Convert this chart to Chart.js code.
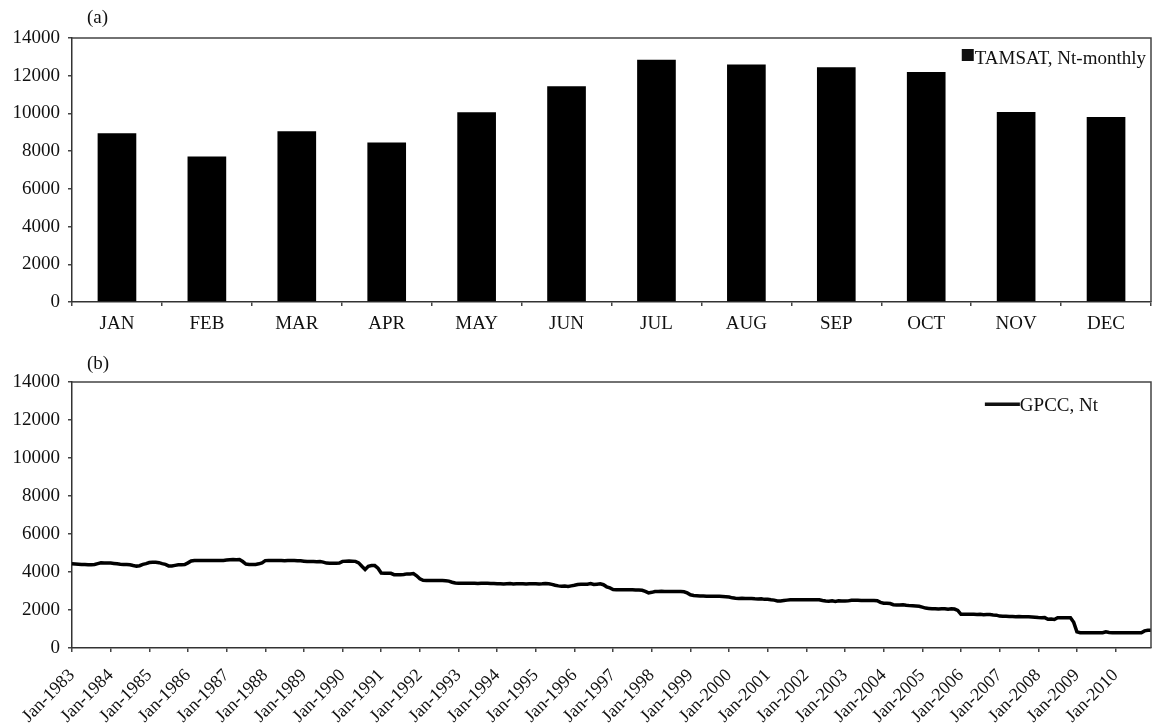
<!DOCTYPE html>
<html><head><meta charset="utf-8">
<script src="https://cdn.jsdelivr.net/npm/chart.js@4"></script>
<style>
html,body{margin:0;padding:0;background:#fff;overflow:hidden;}
#wrapA{position:absolute;left:0;top:0;width:1153px;height:340px;}
#wrapB{position:absolute;left:0;top:340px;width:1153px;height:384px;}
</style></head><body>
<div id="wrapA"><canvas id="chartA" width="1153" height="340"></canvas></div>
<div id="wrapB"><canvas id="chartB" width="1153" height="384"></canvas></div>
<script>
// ---- data ----
const monthCategories = ['JAN','FEB','MAR','APR','MAY','JUN','JUL','AUG','SEP','OCT','NOV','DEC'];
const tamsatNtMonthly = [8950, 7720, 9050, 8460, 10060, 11440, 12850, 12590, 12450, 12200, 10080, 9810];
const yTickValues = [0, 2000, 4000, 6000, 8000, 10000, 12000, 14000];
const gpccYears = [1983,1984,1985,1986,1987,1988,1989,1990,1991,1992,1993,1994,1995,1996,
                   1997,1998,1999,2000,2001,2002,2003,2004,2005,2006,2007,2008,2009,2010];
const monthAbbrev = ['Jan','Feb','Mar','Apr','May','Jun','Jul','Aug','Sep','Oct','Nov','Dec'];
const gpccNt = [
  4430,4420,4410,4400,4390,4380,4380,4400,4440,4480,4470,4480, // 1983
  4470,4450,4430,4410,4400,4390,4380,4340,4310,4330,4400,4440, // 1984
  4500,4510,4510,4490,4440,4400,4320,4320,4350,4380,4380,4390, // 1985
  4480,4580,4610,4600,4600,4600,4600,4600,4600,4600,4600,4610, // 1986
  4630,4650,4660,4650,4660,4550,4420,4400,4390,4400,4430,4480, // 1987
  4600,4610,4600,4600,4600,4600,4590,4600,4610,4600,4590,4590, // 1988
  4570,4550,4550,4550,4540,4550,4520,4470,4460,4460,4460,4470, // 1989
  4560,4570,4580,4570,4560,4480,4300,4130,4300,4340,4340,4200, // 1990
  3950,3940,3940,3930,3860,3850,3850,3870,3900,3900,3920,3800, // 1991
  3640,3560,3550,3550,3550,3550,3550,3550,3540,3520,3460,3420, // 1992
  3410,3410,3410,3410,3410,3410,3400,3410,3410,3410,3400,3390, // 1993
  3380,3380,3370,3380,3390,3370,3380,3380,3380,3370,3380,3380, // 1994
  3380,3370,3380,3400,3380,3350,3300,3270,3250,3260,3240,3270, // 1995
  3300,3340,3350,3350,3360,3390,3340,3360,3380,3330,3220,3160, // 1996
  3080,3070,3060,3060,3070,3060,3060,3050,3050,3040,2980,2900, // 1997
  2930,2970,2980,2990,2980,2980,2980,2980,2980,2970,2960,2900, // 1998
  2800,2760,2750,2740,2740,2730,2730,2730,2720,2720,2710,2700, // 1999
  2680,2640,2620,2610,2620,2600,2600,2610,2590,2580,2590,2560, // 2000
  2570,2540,2520,2480,2480,2500,2520,2540,2540,2540,2540,2540, // 2001
  2540,2540,2540,2540,2540,2500,2470,2460,2480,2450,2480,2470, // 2002
  2470,2480,2510,2510,2510,2500,2500,2500,2500,2500,2490,2400, // 2003
  2360,2360,2340,2280,2260,2260,2280,2250,2230,2220,2210,2200, // 2004
  2150,2100,2080,2060,2070,2050,2060,2070,2040,2060,2050,1980, // 2005
  1770,1770,1780,1770,1770,1760,1770,1750,1760,1760,1740,1730, // 2006
  1680,1670,1670,1660,1660,1650,1660,1650,1640,1640,1630,1620, // 2007
  1600,1590,1600,1510,1520,1500,1590,1590,1590,1590,1590,1350, // 2008
   850, 800, 800, 800, 800, 800, 800, 800, 800, 850, 820, 800, // 2009
   800, 800, 800, 800, 800, 800, 800, 800, 800, 900, 930, 930  // 2010
];
const gpccMonthLabels = [];
gpccYears.forEach(y => monthAbbrev.forEach(m => gpccMonthLabels.push(m + '-' + y)));

// ---- styling ----
const FONT = '"Liberation Serif", "Times New Roman", serif';
Chart.defaults.font.family = FONT;
Chart.defaults.font.size = 19;
Chart.defaults.color = '#111';

const panelDecor = {
  id: 'panelDecor',
  afterDraw(chart, args, o) {
    const ctx = chart.ctx, a = chart.chartArea;
    ctx.save();
    ctx.strokeStyle = '#444';
    ctx.lineWidth = 1.5;
    ctx.beginPath();
    ctx.moveTo(a.left, a.top); ctx.lineTo(a.right, a.top); ctx.lineTo(a.right, a.bottom);
    ctx.stroke();
    ctx.fillStyle = '#111';
    ctx.font = '19px ' + FONT;
    ctx.textBaseline = 'middle';
    ctx.textAlign = 'left';
    ctx.fillText(o.tag, a.left + 15, a.top + o.tagY);
    const label = chart.data.datasets[0].label;
    const tw = ctx.measureText(label).width;
    const tx = a.right - o.legendRight - tw;
    const ty = a.top + o.legendY;
    ctx.fillText(label, tx, ty);
    if (o.kind === 'box') ctx.fillRect(tx - 13, ty - 10, 12, 12);
    else ctx.fillRect(tx - 35, ty - 3.5, 35, 3.5);
    ctx.restore();
  }
};

const makeYAxis = () => ({
  min: 0, max: 14000,
  afterBuildTicks: s => { s.ticks = yTickValues.map(v => ({ value: v })); },
  afterFit: s => { s.width = 72; },
  ticks: { callback: v => String(v), padding: 8, color: '#111', font: { size: 19 } },
  grid: { drawOnChartArea: false, drawTicks: true, tickLength: 4, color: '#444', lineWidth: 1.5 },
  border: { display: true, color: '#333', width: 1.5 }
});

new Chart(document.getElementById('chartA'), {
  type: 'bar',
  data: {
    labels: monthCategories,
    datasets: [{
      label: 'TAMSAT, Nt-monthly',
      data: tamsatNtMonthly,
      backgroundColor: '#000',
      borderWidth: 0,
      categoryPercentage: 1.0,
      barPercentage: 0.43
    }]
  },
  options: {
    responsive: false,
    animation: false,
    devicePixelRatio: 1,
    layout: { padding: { top: 38, right: 2, left: 0, bottom: 0 } },
    plugins: {
      legend: { display: false },
      tooltip: { enabled: false },
      panelDecor: { tag: '(a)', tagY: -20, legendRight: 5, legendY: 21, kind: 'box' }
    },
    scales: {
      x: {
        afterFit: s => { s.height = 38; s.paddingLeft = 0; s.paddingRight = 0; },
        ticks: { padding: 7, color: '#111', font: { size: 19 } },
        grid: { offset: true, drawOnChartArea: false, drawTicks: true, tickLength: 4, color: '#444', lineWidth: 1.5 },
        border: { display: true, color: '#333', width: 1.5 }
      },
      y: makeYAxis()
    }
  },
  plugins: [panelDecor]
});

new Chart(document.getElementById('chartB'), {
  type: 'line',
  data: {
    labels: gpccMonthLabels,
    datasets: [{
      label: 'GPCC, Nt',
      data: gpccNt,
      borderColor: '#000',
      backgroundColor: '#000',
      borderWidth: 3.5,
      pointRadius: 0,
      tension: 0,
      fill: false
    }]
  },
  options: {
    responsive: false,
    animation: false,
    devicePixelRatio: 1,
    layout: { padding: { top: 42, right: 2, left: 0, bottom: 0 } },
    plugins: {
      legend: { display: false },
      tooltip: { enabled: false },
      panelDecor: { tag: '(b)', tagY: -18, legendRight: 53, legendY: 24, kind: 'line' }
    },
    scales: {
      x: {
        offset: false,
        afterFit: s => { s.height = 76; s.paddingLeft = 0; s.paddingRight = 0; },
        ticks: {
          autoSkip: false,
          minRotation: 45, maxRotation: 45,
          padding: 13,
          color: '#111',
          font: { size: 18 },
          callback: (v, i) => (i % 12 === 0 ? gpccMonthLabels[i] : '')
        },
        grid: {
          offset: false,
          drawOnChartArea: false, drawTicks: true, tickLength: 4, lineWidth: 1.5,
          color: c => (c.index % 12 === 0 ? '#444' : 'rgba(0,0,0,0)')
        },
        border: { display: true, color: '#333', width: 1.5 }
      },
      y: makeYAxis()
    }
  },
  plugins: [panelDecor]
});
</script>
</body></html>
